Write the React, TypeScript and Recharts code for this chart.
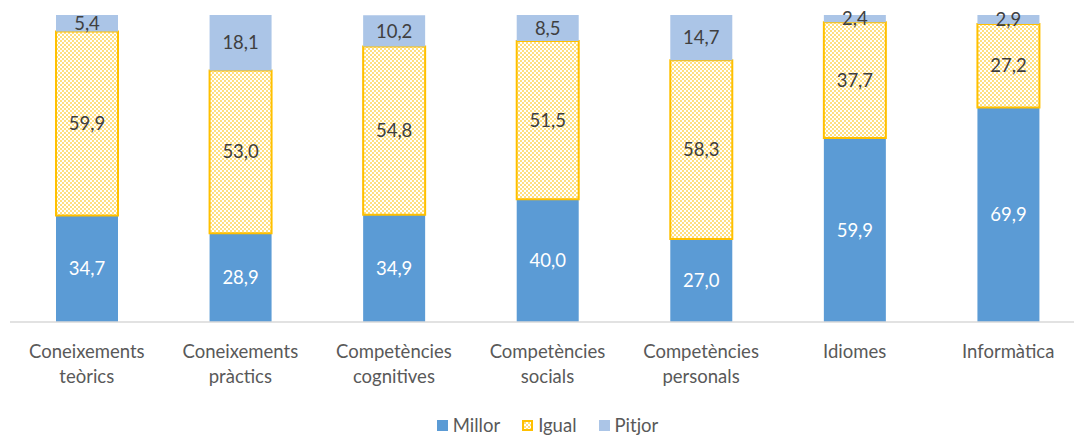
import React from "react";
import { Bar, BarChart, LabelList, Legend, XAxis, YAxis } from "recharts";

const categories = [
  "Coneixements teòrics",
  "Coneixements pràctics",
  "Competències cognitives",
  "Competències socials",
  "Competències personals",
  "Idiomes",
  "Informàtica",
];
const millor = [34.7, 28.9, 34.9, 40.0, 27.0, 59.9, 69.9];
const igual = [59.9, 53.0, 54.8, 51.5, 58.3, 37.7, 27.2];
const pitjor = [5.4, 18.1, 10.2, 8.5, 14.7, 2.4, 2.9];

const data = categories.map((name, i) => ({
  name,
  millor: millor[i],
  igual: igual[i],
  pitjor: pitjor[i],
}));

const FONT = "Lato, 'Open Sans', sans-serif";
const BLUE = "#5b9bd5";
const YELLOW = "#ffc000";
const LIGHT = "#abc5e7";
const TXT = 18.5;

const fmt = (v: unknown) => Number(v).toFixed(1).replace(".", ",");

function CategoryTick(props: any) {
  const { x, y, payload } = props;
  const words = String(payload.value).split(" ");
  return (
    <text x={x} y={y} textAnchor="middle" fill="#595959" fontSize={TXT} fontFamily={FONT}>
      {words.map((w: string, i: number) => (
        <tspan key={i} x={x} dy={i === 0 ? 28 : 25}>
          {w}
        </tspan>
      ))}
    </text>
  );
}

function LegendContent() {
  const items = [
    { label: "Millor", kind: "millor" },
    { label: "Igual", kind: "igual" },
    { label: "Pitjor", kind: "pitjor" },
  ];
  return (
    <div
      style={{
        height: 24,
        display: "flex",
        justifyContent: "center",
        alignItems: "center",
        gap: 22,
        fontFamily: FONT,
        fontSize: TXT,
        color: "#595959",
      }}
    >
      {items.map((it) => (
        <span key={it.kind} style={{ display: "flex", alignItems: "center", gap: 5 }}>
          <svg width={11} height={11}>
            {it.kind === "igual" ? (
              <rect x={1} y={1} width={9} height={9} fill="url(#igualPattern)" stroke={YELLOW} strokeWidth={2} />
            ) : (
              <rect width={11} height={11} fill={it.kind === "millor" ? BLUE : LIGHT} />
            )}
          </svg>
          {it.label}
        </span>
      ))}
    </div>
  );
}

export default function App() {
  return (
    <div
      style={{
        position: "fixed",
        left: 0,
        top: 0,
        width: 1074,
        height: 439,
        overflow: "hidden",
        background: "#fff",
      }}
    >
      <BarChart
        width={1100}
        height={439}
        data={data}
        margin={{ top: 15, right: 15, bottom: 2, left: 10 }}
        barSize={62}
      >
        <defs>
          <pattern id="igualPattern" width={4} height={4} patternUnits="userSpaceOnUse">
            <rect width={4} height={4} fill="#fff" />
            <rect x={0} y={0} width={2} height={2} fill="#ffdf80" />
            <rect x={2} y={2} width={2} height={2} fill="#ffdf80" />
          </pattern>
        </defs>
        <XAxis
          dataKey="name"
          axisLine={{ stroke: "#d9d9d9", strokeWidth: 1.5 }}
          tickLine={false}
          tick={<CategoryTick />}
          interval={0}
          height={91}
        />
        <YAxis hide domain={[0, 100]} />
        <Legend verticalAlign="bottom" content={<LegendContent />} />
        <Bar dataKey="millor" stackId="a" fill={BLUE} isAnimationActive={false}>
          <LabelList
            dataKey="millor"
            position="center"
            formatter={fmt}
            fill="#ffffff"
            fontSize={TXT}
            fontFamily={FONT}
          />
        </Bar>
        <Bar
          dataKey="igual"
          stackId="a"
          fill="url(#igualPattern)"
          stroke={YELLOW}
          strokeWidth={2}
          isAnimationActive={false}
        >
          <LabelList
            dataKey="igual"
            position="center"
            formatter={fmt}
            fill="#404040"
            fontSize={TXT}
            fontFamily={FONT}
          />
        </Bar>
        <Bar dataKey="pitjor" stackId="a" fill={LIGHT} isAnimationActive={false}>
          <LabelList
            dataKey="pitjor"
            position="center"
            formatter={fmt}
            fill="#404040"
            fontSize={TXT}
            fontFamily={FONT}
          />
        </Bar>
      </BarChart>
    </div>
  );
}
